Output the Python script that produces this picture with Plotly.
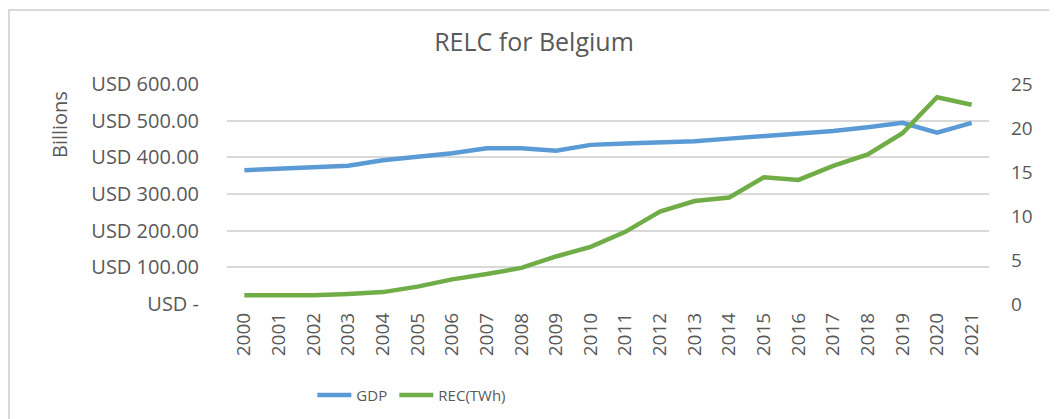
import plotly.graph_objects as go

years = [str(y) for y in range(2000, 2022)]
gdp = [365, 368, 373, 377, 392, 400, 411, 425, 425, 418, 434, 438,
       441, 444, 451, 458, 464, 472, 482, 494, 467, 494]
rec_twh = [1.0, 1.0, 1.0, 1.14, 1.35, 1.97, 2.8, 3.4, 4.1, 5.4, 6.5, 8.2,
           10.5, 11.7, 12.1, 14.4, 14.1, 15.7, 17.0, 19.4, 23.5, 22.65]
gdp_ticks = [0, 100, 200, 300, 400, 500, 600]
gdp_tick_text = ["USD -", "USD 100.00", "USD 200.00", "USD 300.00",
                 "USD 400.00", "USD 500.00", "USD 600.00"]

grey = "#595959"
font = "Open Sans"

fig = go.Figure()
fig.add_trace(go.Scatter(x=years, y=gdp, name="GDP", mode="lines",
                         line=dict(color="#5b9bd5", width=4.5),
                         showlegend=True))
fig.add_trace(go.Scatter(x=years, y=rec_twh, name="REC(TWh)", mode="lines",
                         line=dict(color="#70ad47", width=4.5), yaxis="y2",
                         legend="legend2", showlegend=True))

legend_style = dict(orientation="h", xanchor="left", yref="container",
                    y=0.076, yanchor="middle", itemwidth=34,
                    font=dict(size=15))

# page body adds an 8px offset, so margins are trimmed by that amount
fig.update_layout(
    width=1057, height=419,
    showlegend=True,
    margin=dict(l=219, r=76, t=76, b=123, autoexpand=False),
    paper_bgcolor="white", plot_bgcolor="white",
    font=dict(family=font, color=grey, size=15),
    title=dict(text="RELC for Belgium", x=0.4976, xanchor="center",
               y=0.919, yanchor="middle", font=dict(size=25, color=grey)),
    xaxis=dict(type="category", range=[-0.5, 21.5], tickangle=-90,
               showgrid=False, showline=False, ticks="",
               ticklabelstandoff=4, tickfont=dict(size=19)),
    yaxis=dict(range=[0, 600], tickvals=gdp_ticks, ticktext=gdp_tick_text,
               showgrid=True, gridcolor="#d9d9d9", gridwidth=1.5,
               zeroline=False, ticks="", ticklabelstandoff=27,
               tickfont=dict(size=20)),
    yaxis2=dict(range=[0, 25], dtick=5, overlaying="y", side="right",
                showgrid=False, zeroline=False, ticks="",
                ticklabelstandoff=21, tickfont=dict(size=19)),
    legend=dict(x=0.112, **legend_style),
    legend2=dict(x=0.2196, **legend_style),
    annotations=[
        dict(text="Billions", textangle=-90, xref="paper", yref="paper",
             x=-0.219, y=0.814, xanchor="center", yanchor="middle",
             showarrow=False, font=dict(size=20))
    ],
    shapes=[
        dict(type="rect", xref="paper", yref="paper",
             x0=-0.2861, x1=1.095, y0=-0.6, y1=1.336,
             line=dict(color="#d9d9d9", width=2), layer="below"),
    ],
)

fig.write_html("out.html")
